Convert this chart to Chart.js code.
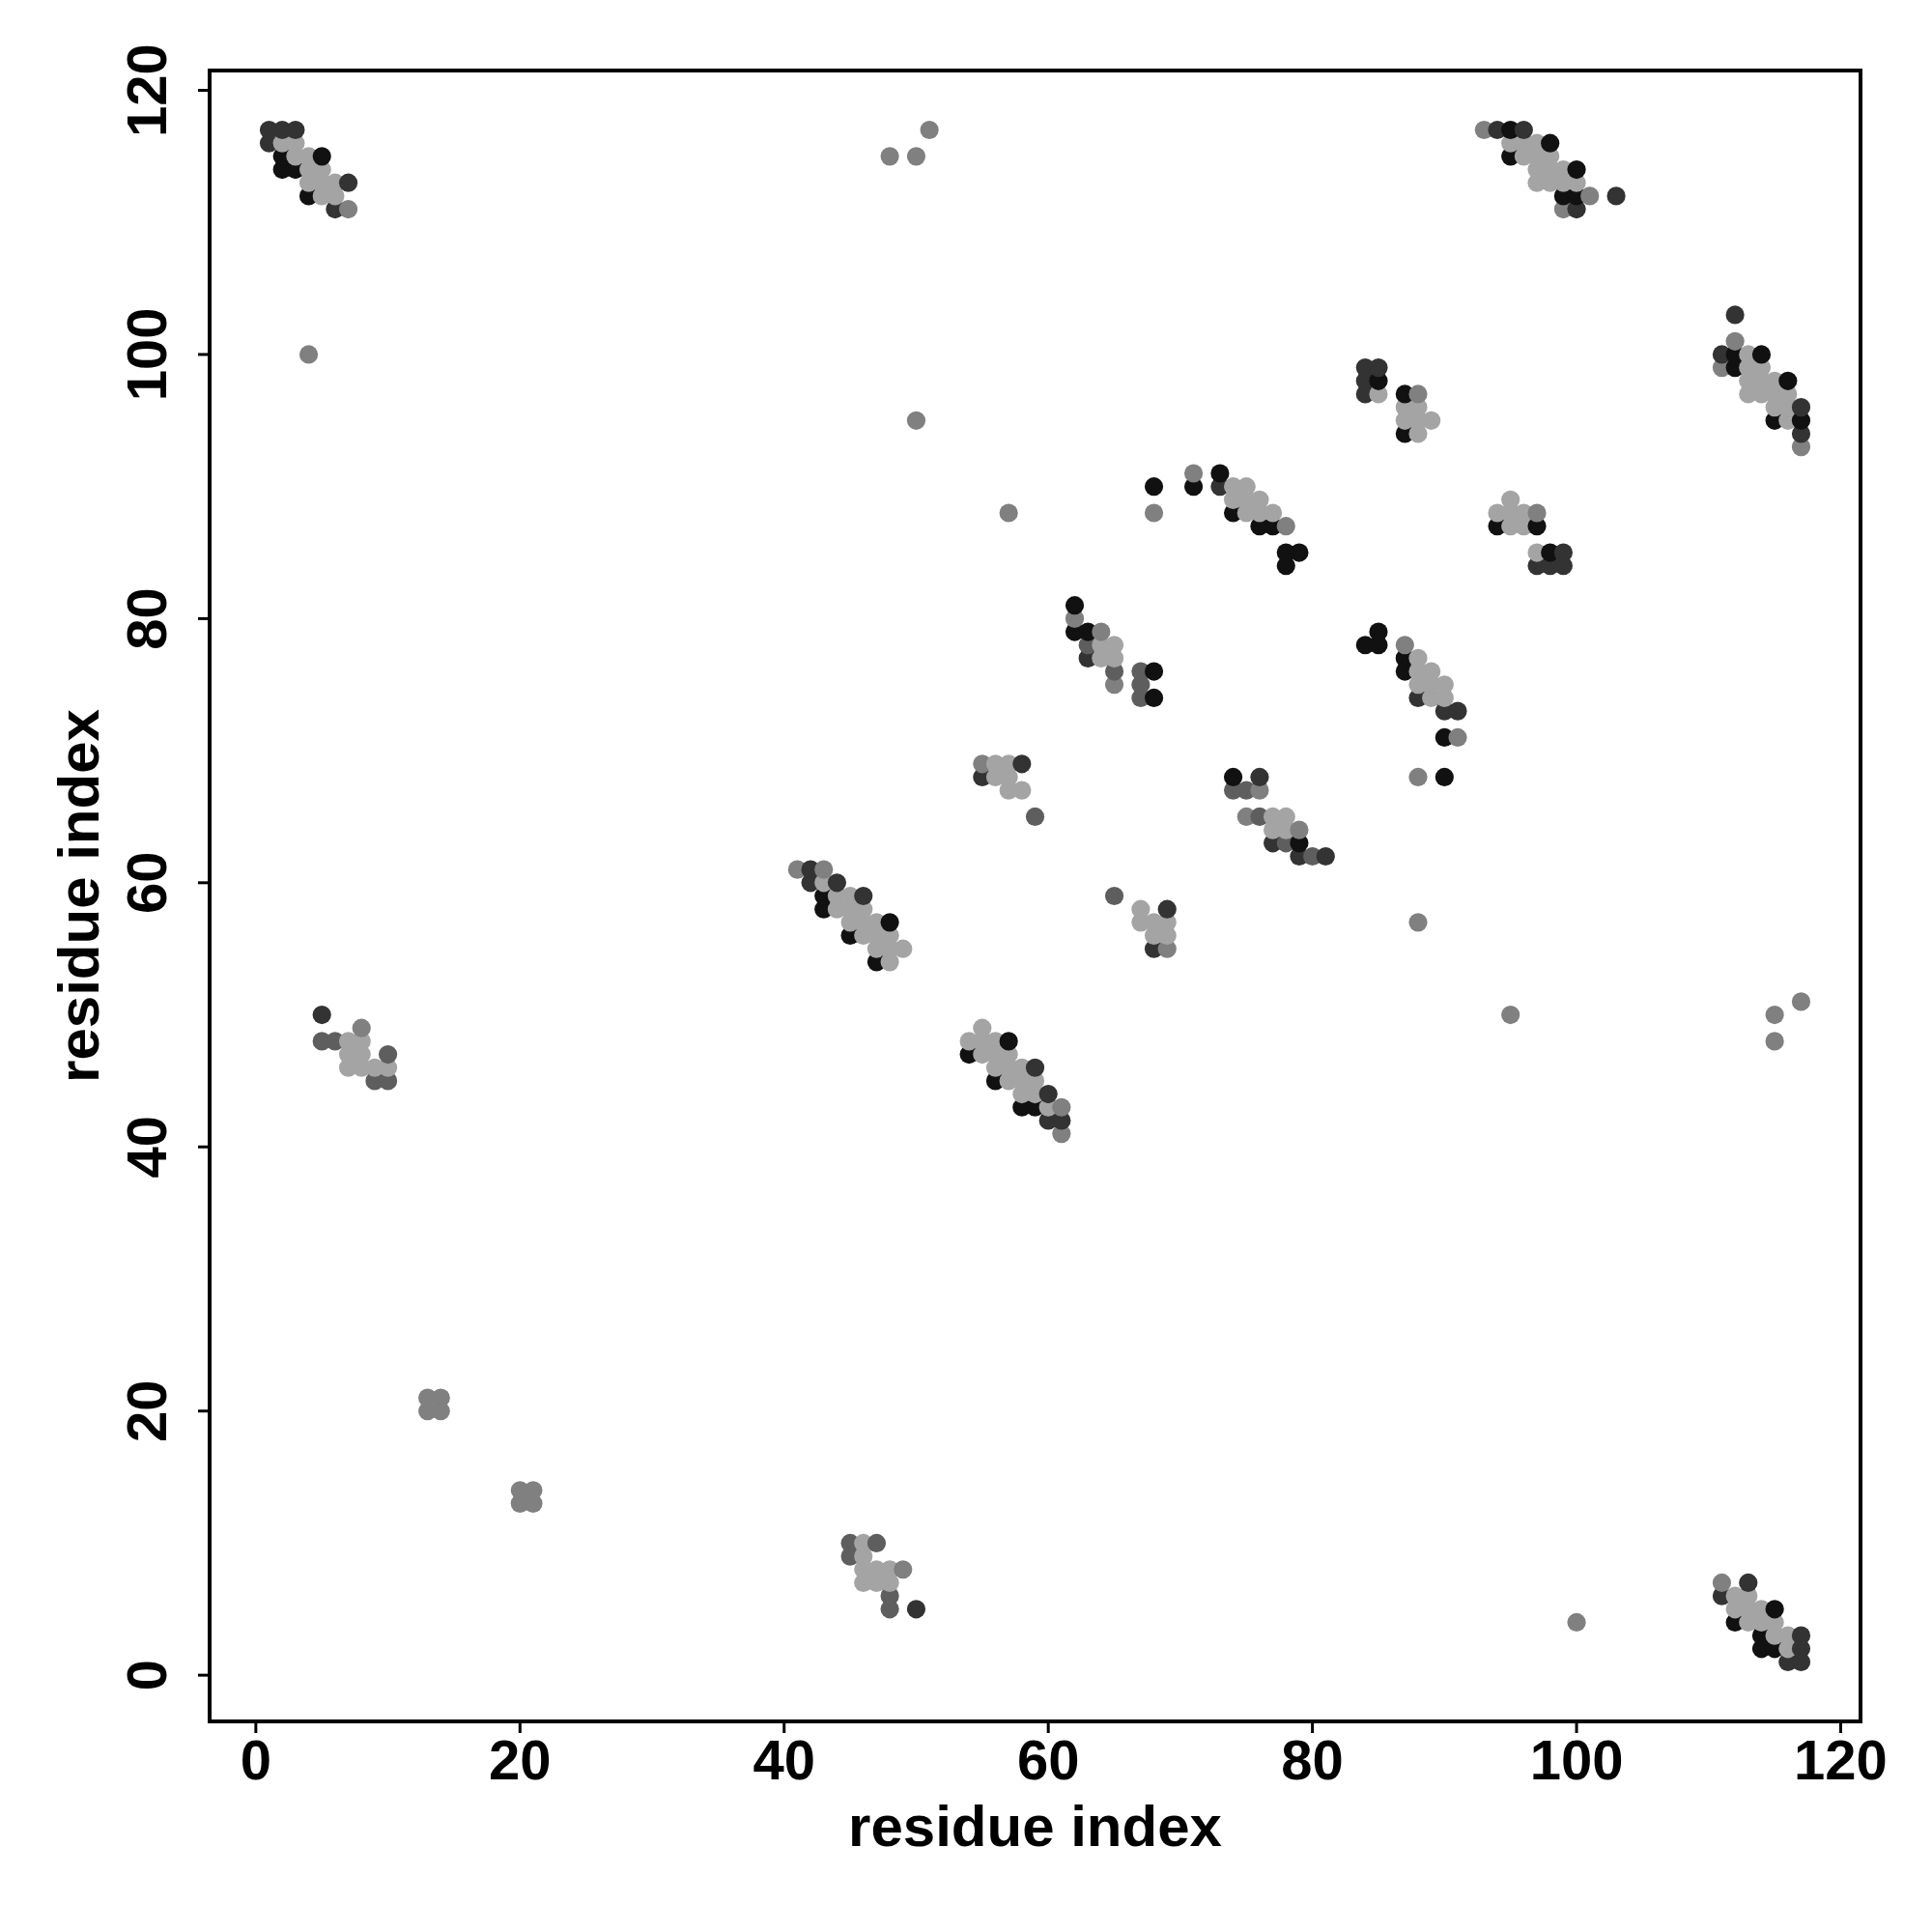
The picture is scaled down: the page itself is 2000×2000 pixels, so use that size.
<!DOCTYPE html>
<html>
<head>
<meta charset="utf-8">
<script src="https://cdn.jsdelivr.net/npm/chart.js@4.4.1/dist/chart.umd.min.js"></script>
<style>
  html, body { margin: 0; padding: 0; background: #fff; }
  #wrap { width: 2000px; height: 2000px; }
</style>
</head>
<body>
<div id="wrap"><canvas id="mapa" width="2000" height="2000"></canvas></div>
<script>
// residue pairs (i, j) grouped by shade of grey
const negros = [
  [2,115],[5,115],[2,114],[3,114],[4,112],
  [95,117],[98,116],[95,115],[100,114],[99,112],[100,112],
  [112,100],[114,100],[112,99],[116,98],[115,95],[117,95],
  [85,98],[87,97],[87,94],
  [94,87],[97,87],[98,85],
  [68,90],[71,90],[73,91],[74,88],[76,87],[77,87],[78,85],[79,85],[78,84],
  [62,81],[62,79],[63,79],[68,76],[68,74],
  [85,79],[84,78],[85,78],[87,77],[87,76],[90,71],[90,68],
  [74,68],[79,63],
  [43,59],[43,58],[48,57],[45,56],[47,54],
  [57,48],[54,47],[56,45],[58,43],[59,43],
  [115,5],[112,4],[114,3],[114,2],[115,2]
];
const oscuros = [
  [1,117],[2,117],[3,117],[1,116],[7,113],[6,111],
  [94,117],[96,117],[103,112],[100,111],
  [112,103],[111,100],[117,96],[117,94],
  [84,99],[85,99],[84,98],[84,97],
  [99,85],[97,84],[98,84],[99,84],
  [73,90],[63,77],
  [88,74],[90,73],[91,73],
  [58,69],[55,68],
  [76,68],[77,63],[79,62],[81,62],
  [42,61],[42,60],[44,60],[46,59],
  [69,58],[68,55],
  [59,46],[60,44],[60,42],[61,42],
  [5,50],[50,5],
  [113,7],[111,6],[117,3],[117,2],[116,1],[117,1]
];
const medios = [
  [63,78],[65,76],[67,76],[67,75],[67,74],
  [59,65],
  [74,67],[75,67],[76,65],[78,63],[80,62],
  [65,59],
  [5,48],[6,48],[10,47],[9,45],[10,45],
  [45,10],[47,10],[45,9],[48,6],[48,5]
];
const grises = [
  [7,111],
  [93,117],[101,112],[99,111],
  [112,101],[111,99],[117,93],
  [88,97],[97,88],
  [57,88],[68,88],[71,91],[78,87],
  [62,80],[64,79],[65,75],
  [87,78],[91,71],[88,68],
  [55,69],
  [76,67],[75,65],[79,64],
  [41,61],[43,61],
  [69,55],
  [61,43],[61,41],
  [8,49],[49,8],[111,7],
  [13,20],[13,21],[14,20],[14,21],[20,13],[20,14],[21,13],[21,14],
  [48,115],[50,115],[51,117],[4,100],[50,95],[88,57],[95,50],
  [115,50],[115,48],[117,51],[100,4]
];
const claros = [
  [2,116],[3,116],[3,115],[4,115],[4,114],[5,114],[4,113],[5,113],[6,113],[5,112],[6,112],
  [95,116],[96,116],[97,116],[96,115],[97,115],[98,115],[97,114],[98,114],[99,114],
  [97,113],[98,113],[99,113],[100,113],
  [113,100],[113,99],[114,99],[113,98],[114,98],[115,98],[113,97],[114,97],[115,97],
  [116,97],[115,96],[116,96],[116,95],
  [85,97],[87,96],[88,96],[87,95],[88,95],[89,95],[88,94],
  [95,89],[94,88],[95,88],[96,88],[95,87],[96,87],[97,85],
  [74,90],[75,90],[74,89],[75,89],[76,89],[75,88],[76,88],[77,88],
  [64,78],[65,78],[64,77],[65,77],
  [88,77],[88,76],[89,76],[88,75],[89,75],[90,75],[89,74],[90,74],
  [56,69],[57,69],[56,68],[57,68],[57,67],[58,67],
  [77,65],[78,65],[77,64],[78,64],
  [43,60],[44,59],[45,59],[44,58],[45,58],[46,58],[45,57],[46,57],[47,57],
  [46,56],[47,56],[48,56],[47,55],[48,55],[49,55],[48,54],
  [67,58],[67,57],[68,57],[69,57],[68,56],[69,56],
  [55,49],[54,48],[55,48],[56,48],[55,47],[56,47],[57,47],[56,46],[57,46],[58,46],
  [57,45],[58,45],[59,45],[58,44],[59,44],[60,43],
  [7,48],[8,48],[7,47],[8,47],[7,46],[8,46],[9,46],[10,46],
  [46,10],[46,9],[46,8],[47,8],[48,8],[46,7],[47,7],[48,7],
  [112,6],[113,6],[112,5],[113,5],[114,5],[113,4],[114,4],[115,4],[115,3],[116,3],[116,2]
];
const ticks = [0, 20, 40, 60, 80, 100, 120];
const tituloEje = "residue index";

const grupos = [
  { pares: negros, color: "#111111" },
  { pares: oscuros, color: "#333333" },
  { pares: medios, color: "#5e5e5e" },
  { pares: grises, color: "#808080" },
  { pares: claros, color: "#a4a4a4" }
];

// R draws in order of the pair list, so sort by i then j
let puntos = [];
grupos.forEach(g => g.pares.forEach(p => puntos.push({ x: p[0], y: p[1], c: g.color })));
puntos.sort((a, b) => a.x - b.x || a.y - b.y);

const FUENTE = '"Liberation Sans", Arial, Helvetica, sans-serif';

const ejes = {
  id: "ejes",
  afterDatasetsDraw(chart) {
    const ctx = chart.ctx;
    const a = chart.chartArea;
    const sx = chart.scales.x, sy = chart.scales.y;
    ctx.save();
    ctx.strokeStyle = "#000";
    ctx.lineWidth = 4;
    ctx.strokeRect(a.left, a.top, a.right - a.left, a.bottom - a.top);

    ctx.lineWidth = 3;
    ctx.fillStyle = "#000";
    ctx.font = "bold 58px " + FUENTE;
    ticks.forEach(v => {
      const px = sx.getPixelForValue(v);
      ctx.beginPath();
      ctx.moveTo(px, a.bottom);
      ctx.lineTo(px, a.bottom + 12);
      ctx.stroke();
      ctx.textAlign = "center";
      ctx.textBaseline = "alphabetic";
      ctx.fillText(String(v), px, 1842);

      const py = sy.getPixelForValue(v);
      ctx.beginPath();
      ctx.moveTo(a.left, py);
      ctx.lineTo(a.left - 12, py);
      ctx.stroke();
      ctx.save();
      ctx.translate(172, py);
      ctx.rotate(-Math.PI / 2);
      ctx.fillText(String(v), 0, 0);
      ctx.restore();
    });

    ctx.font = "bold 60px " + FUENTE;
    ctx.textAlign = "center";
    ctx.fillText(tituloEje, (a.left + a.right) / 2, 1911);
    ctx.save();
    ctx.translate(102, (a.top + a.bottom) / 2);
    ctx.rotate(-Math.PI / 2);
    ctx.fillText(tituloEje, 0, 0);
    ctx.restore();
    ctx.restore();
  }
};

new Chart(document.getElementById("mapa").getContext("2d"), {
  type: "scatter",
  data: {
    datasets: [{
      data: puntos.map(p => ({ x: p.x, y: p.y })),
      pointRadius: 9.6,
      pointHoverRadius: 9.6,
      pointBorderWidth: 0,
      pointBackgroundColor: puntos.map(p => p.c),
      pointBorderColor: puntos.map(p => p.c)
    }]
  },
  options: {
    responsive: false,
    animation: false,
    layout: { padding: { left: 217, top: 73, right: 74, bottom: 218 } },
    plugins: { legend: { display: false }, tooltip: { enabled: false } },
    scales: {
      x: { type: "linear", min: -3.5, max: 121.5, display: false },
      y: { type: "linear", min: -3.5, max: 121.5, display: false }
    }
  },
  plugins: [ejes]
});
</script>
</body>
</html>
